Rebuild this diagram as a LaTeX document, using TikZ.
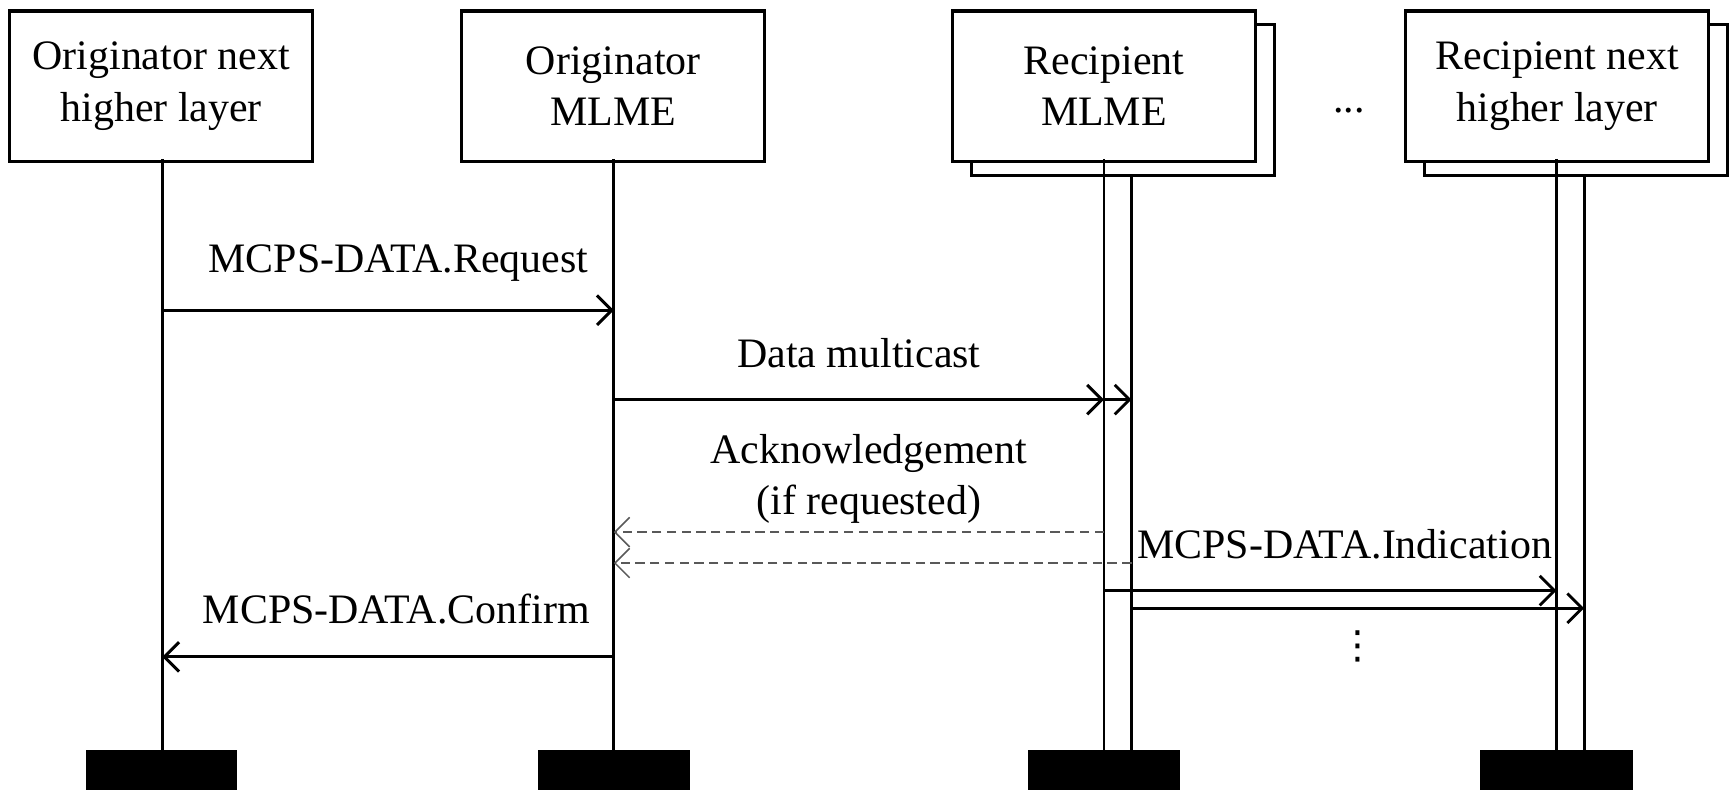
\documentclass[tikz,border=0pt]{standalone}
\usepackage{fontspec}
\setmainfont{Liberation Serif}
\newfontfamily\dvsans{DejaVu Sans}
\usetikzlibrary{arrows.meta}
\begin{document}
\begin{tikzpicture}[x=0.01cm,y=-0.01cm,
  lbl/.style={font=\fontsize{10.8}{13.2}\selectfont, align=center, inner sep=0pt},
  boxf/.style={draw, line width=0.8pt, fill=white, minimum width=2.74cm, minimum height=1.36cm, lbl},
  boxb/.style={draw, line width=0.8pt, fill=white, minimum width=2.74cm, minimum height=1.37cm},
  life/.style={line width=0.75pt},
  msg/.style={line width=0.75pt, -{Straight Barb[length=3.8pt,width=7.6pt,line width=0.75pt]}},
  ack/.style={line width=0.4pt, draw=black!65, dashed, dash pattern=on 2.4pt off 1.4pt, -{Straight Barb[length=3.8pt,width=7.6pt,line width=0.4pt]}},
  endbar/.style={fill=black, draw=none, inner sep=0pt, minimum height=0.36cm}]
\useasboundingbox (0,0) rectangle (1568,715);
% back boxes
\node[boxb] (b3back) at (1017,90.5) {};
\node[boxb] (b4back) at (1427.5,90.5) {};
% front boxes
\node[boxf] (b1) at (146,78) {Originator next\\higher layer};
\node[boxf] (b2) at (555.5,78) {Originator\\MLME};
\node[boxf] (b3) at (1000,78) {Recipient\\MLME};
\node[boxf] (b4) at (1410.5,78) {Recipient next\\higher layer};
\node[lbl] (dots) at (1222,100) {...};
% lifeline coordinates
\coordinate (l1t) at (147,144); \coordinate (l1b) at (147,680);
\coordinate (l2t) at (556,144); \coordinate (l2b) at (556,680);
\coordinate (l3t) at (1000,144); \coordinate (l3b) at (1000,680);
\coordinate (l3bt) at (1025,159); \coordinate (l3bb) at (1025,680);
\coordinate (l4t) at (1410,144); \coordinate (l4b) at (1410,680);
\coordinate (l4bt) at (1435,159); \coordinate (l4bb) at (1435,680);
\draw[life] (l1t) -- (l1b);
\draw[life] (l2t) -- (l2b);
\draw[life] (l3t) -- (l3b);
\draw[life] (l3bt) -- (l3bb);
\draw[life] (l4t) -- (l4b);
\draw[life] (l4bt) -- (l4bb);
% end bars
\node[endbar, minimum width=1.37cm] (e1) at (146.5,697.5) {};
\node[endbar, minimum width=1.38cm] (e2) at (556,697.5) {};
\node[endbar, minimum width=1.38cm] (e3) at (1000,697.5) {};
\node[endbar, minimum width=1.38cm] (e4) at (1410,697.5) {};
% messages
\coordinate (r1) at (147,281); \coordinate (r2) at (556,281);
\draw[msg] (r1) -- (r2);
\node[lbl] (req) at (361,238) {MCPS-DATA.Request};
\coordinate (d1) at (556,362); \coordinate (d2) at (1000,362); \coordinate (d3) at (1025,362);
\draw[msg] (d1) -- (d2);
\draw[msg] (d2) -- (d3);
\node[lbl] (dm) at (778,320) {Data multicast};
\node[lbl] (ackl) at (787,434) {Acknowledgement\\(if requested)};
\coordinate (a1) at (1000,482); \coordinate (a1e) at (556,482);
\coordinate (a2) at (1025,510); \coordinate (a2e) at (556,510);
\draw[ack] (a1) -- (a1e);
\draw[ack] (a2) -- (a2e);
\node[lbl] (ind) at (1218,493) {MCPS-DATA.Indication};
\coordinate (i1) at (1000,535); \coordinate (i1e) at (1410,535);
\coordinate (i2) at (1025,551); \coordinate (i2e) at (1435,551);
\draw[msg] (i1) -- (i1e);
\draw[msg] (i2) -- (i2e);
\node[lbl, font=\dvsans\fontsize{10}{11}\selectfont] (vd) at (1230,586) {⋮};
\coordinate (c1) at (556,595); \coordinate (c2) at (147,595);
\draw[msg] (c1) -- (c2);
\node[lbl] (conf) at (359,552) {MCPS-DATA.Confirm};
\end{tikzpicture}
\end{document}
